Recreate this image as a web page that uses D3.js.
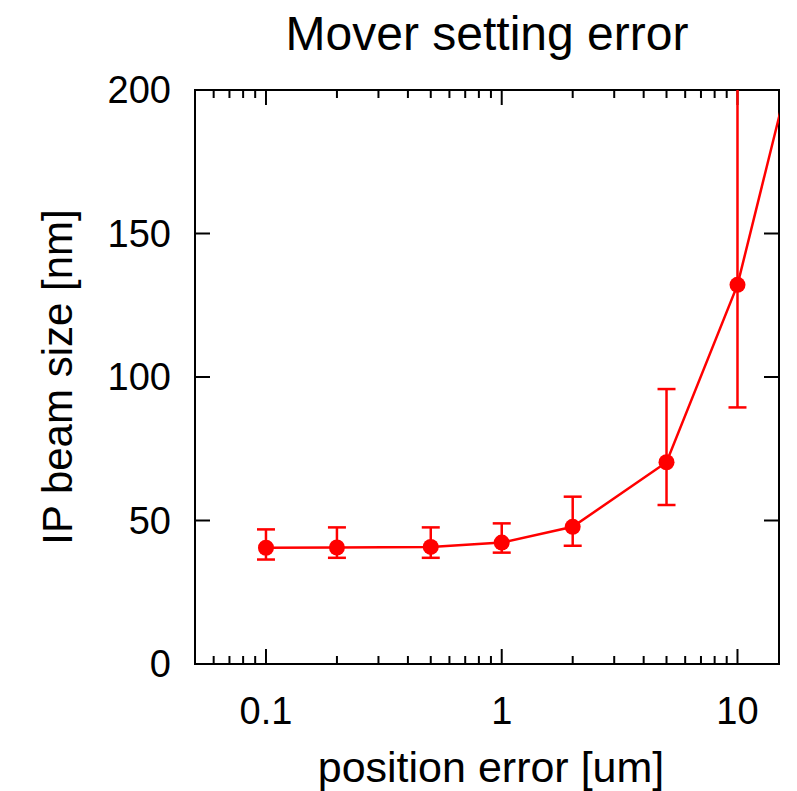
<!DOCTYPE html>
<html>
<head>
<meta charset="utf-8">
<script src="https://cdn.jsdelivr.net/npm/d3@7"></script>
<style>
  body { margin: 0; background: #fff; }
  text { font-family: "Liberation Sans", Arial, sans-serif; fill: #000; }
</style>
</head>
<body>
<div id="chart"></div>
<script>
  var posError = [0.1, 0.2, 0.5, 1, 2, 5, 10, 20]
  var beamSize = [40.5, 40.6, 40.8, 42.3, 47.8, 70.3, 132.1, 232]
  var errLow = [36.4, 37.0, 37.0, 38.8, 41.2, 55.4, 89.4, 170]
  var errHigh = [46.9, 47.6, 47.6, 49.0, 58.3, 95.8, 260, 320]
  var xTicks = [0.1, 1, 10]
  var yTicks = [0, 50, 100, 150, 200]

  var datos = posError.map(function (d, i) {
      return { x: d, y: beamSize[i], lo: errLow[i], hi: errHigh[i] }
  })

  var width = 797,
      height = 791,
      mIzq = 195, mDer = 779, mSup = 90, mInf = 664;

  var x = d3.scaleLog().domain([0.05, 15]).range([mIzq, mDer])
  var y = d3.scaleLinear().domain([0, 200]).range([mInf, mSup])

  var svg = d3.select("#chart").append("svg")
      .attr("width", width)
      .attr("height", height)

  svg.append("clipPath").attr("id", "clip")
      .append("rect")
      .attr("x", mIzq).attr("y", mSup)
      .attr("width", mDer - mIzq).attr("height", mInf - mSup)

  // minor ticks of the log axis, 2..9 in every decade
  var minor = []
  for (var e = -2; e <= 1; e++) {
      for (var k = 2; k <= 9; k++) {
          var v = k * Math.pow(10, e)
          if (v > 0.05 && v < 15) minor.push(v)
      }
  }

  var ticks = svg.append("g").attr("stroke", "#000").attr("stroke-width", 2)

  ticks.selectAll(".xmin").data(minor).enter().append("line")
      .attr("x1", x).attr("x2", x)
      .attr("y1", mInf).attr("y2", mInf - 8)
  ticks.selectAll(".xmint").data(minor).enter().append("line")
      .attr("x1", x).attr("x2", x)
      .attr("y1", mSup).attr("y2", mSup + 8)
  ticks.selectAll(".xmaj").data(xTicks).enter().append("line")
      .attr("x1", x).attr("x2", x)
      .attr("y1", mInf).attr("y2", mInf - 15)
  ticks.selectAll(".xmajt").data(xTicks).enter().append("line")
      .attr("x1", x).attr("x2", x)
      .attr("y1", mSup).attr("y2", mSup + 15)
  ticks.selectAll(".yl").data(yTicks).enter().append("line")
      .attr("x1", mIzq).attr("x2", mIzq + 15)
      .attr("y1", y).attr("y2", y)
  ticks.selectAll(".yr").data(yTicks).enter().append("line")
      .attr("x1", mDer).attr("x2", mDer - 15)
      .attr("y1", y).attr("y2", y)

  svg.append("rect")
      .attr("x", mIzq).attr("y", mSup)
      .attr("width", mDer - mIzq).attr("height", mInf - mSup)
      .attr("fill", "none")
      .attr("stroke", "#000")
      .attr("stroke-width", 2)

  svg.selectAll(".xlab").data(xTicks).enter().append("text")
      .attr("x", x)
      .attr("y", 724)
      .attr("text-anchor", "middle")
      .style("font-size", "38px")
      .text(function (d) { return d; })

  svg.selectAll(".ylab").data(yTicks).enter().append("text")
      .attr("x", mIzq - 24)
      .attr("y", function (d) { return y(d) + 13; })
      .attr("text-anchor", "end")
      .style("font-size", "38px")
      .text(function (d) { return d; })

  var plot = svg.append("g").attr("clip-path", "url(#clip)")

  var linea = d3.line()
      .x(function (d) { return x(d.x); })
      .y(function (d) { return y(d.y); })

  plot.append("path")
      .datum(datos)
      .attr("fill", "none")
      .attr("stroke", "#ff0000")
      .attr("stroke-width", 2.5)
      .attr("d", linea)

  var barras = plot.append("g").attr("stroke", "#ff0000").attr("stroke-width", 2.5)
  barras.selectAll(".eb").data(datos).enter().append("line")
      .attr("x1", function (d) { return x(d.x); })
      .attr("x2", function (d) { return x(d.x); })
      .attr("y1", function (d) { return y(d.lo); })
      .attr("y2", function (d) { return y(d.hi); })
  barras.selectAll(".cl").data(datos).enter().append("line")
      .attr("x1", function (d) { return x(d.x) - 9; })
      .attr("x2", function (d) { return x(d.x) + 9; })
      .attr("y1", function (d) { return y(d.lo); })
      .attr("y2", function (d) { return y(d.lo); })
  barras.selectAll(".ch").data(datos).enter().append("line")
      .attr("x1", function (d) { return x(d.x) - 9; })
      .attr("x2", function (d) { return x(d.x) + 9; })
      .attr("y1", function (d) { return y(d.hi); })
      .attr("y2", function (d) { return y(d.hi); })

  plot.selectAll("circle").data(datos).enter().append("circle")
      .attr("cx", function (d) { return x(d.x); })
      .attr("cy", function (d) { return y(d.y); })
      .attr("r", 8)
      .attr("fill", "#ff0000")

  svg.append("text")
      .attr("x", 487)
      .attr("y", 50)
      .attr("text-anchor", "middle")
      .style("font-size", "48px")
      .text("Mover setting error")

  svg.append("text")
      .attr("x", 491)
      .attr("y", 782)
      .attr("text-anchor", "middle")
      .style("font-size", "43px")
      .text("position error [um]")

  svg.append("text")
      .attr("transform", "translate(72," + ((mSup + mInf) / 2) + ") rotate(-90)")
      .attr("text-anchor", "middle")
      .style("font-size", "42px")
      .text("IP beam size [nm]")
</script>
</body>
</html>
